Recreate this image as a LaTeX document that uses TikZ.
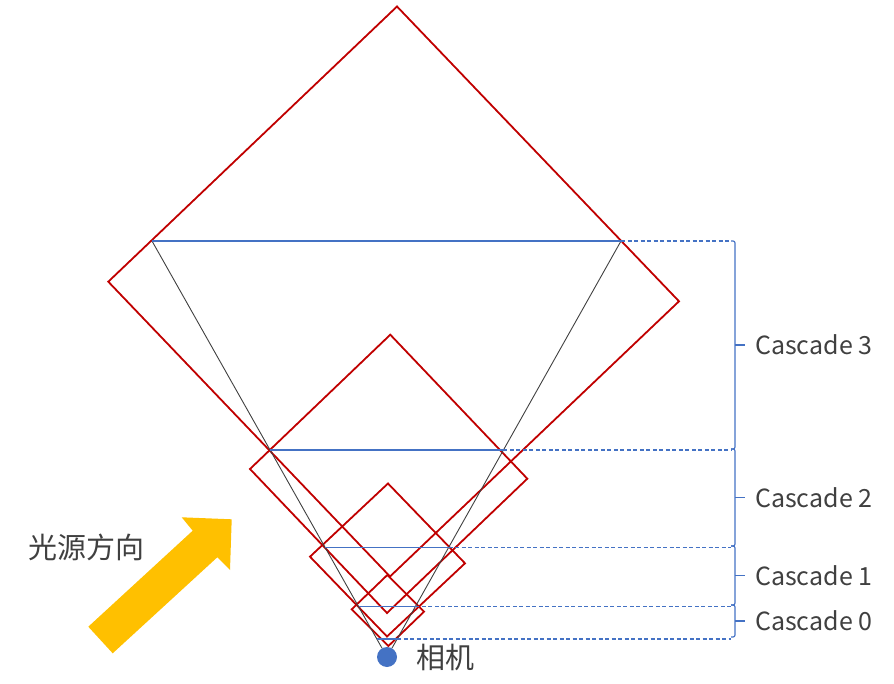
\documentclass[tikz,border=0pt]{standalone}
\usepackage{fontspec}
\setmainfont{Noto Sans CJK SC}
\usetikzlibrary{calc,positioning}
\definecolor{boxred}{HTML}{C00000}
\definecolor{splitblue}{HTML}{4472C4}
\definecolor{lightyellow}{HTML}{FFC000}
\definecolor{textgray}{HTML}{404040}
\tikzset{
 cascadebox/.style={draw=boxred,line width=1.8pt,line join=miter},
 frustum/.style={draw=textgray,line width=0.9pt},
 splitline/.style={draw=splitblue,line width=1.2pt},
 splitdash/.style={splitline,dash pattern=on 4pt off 2.5pt},
 cascadelabel/.style={text=textgray,font=\fontsize{25}{25}\selectfont,anchor=west,inner sep=0pt},
 cjklabel/.style={text=textgray,font=\fontsize{29}{29}\selectfont,inner sep=0pt},
}
\begin{document}
\begin{tikzpicture}[x=1pt,y=-1pt]
 \useasboundingbox (0,0) rectangle (894,684);
 \node[circle,fill=splitblue,minimum size=20pt,inner sep=0pt] (camdot) at (387,657) {};
 \node[cjklabel,anchor=west,right=19pt of camdot] (camlabel) {相机};
 \coordinate (farL) at (152,241);
 \coordinate (farR) at (621,241);
 \coordinate (brace) at (731,0);
 \draw[cascadebox] (397,6.5) -- (108.3,281.7) -- (390,576.5) -- (679,301.3) -- cycle;
 \draw[cascadebox] (390.3,334.7) -- (250,469) -- (387,613) -- (527.3,478.7) -- cycle;
 \draw[cascadebox] (388,483.5) -- (310,556.7) -- (387,636.5) -- (465,563.3) -- cycle;
 \draw[cascadebox] (387.3,575) -- (351.7,609.3) -- (388.4,646) -- (424,611.7) -- cycle;
 \draw[frustum] (farL) -- (camdot);
 \draw[frustum] (farR) -- (camdot);
 \foreach \t/\n in {1/s3,0.4976/s2,0.2633/s1,0.1208/s0,0.0435/near}{
  \coordinate (\n L) at ($(camdot.center)!\t!(farL)$);
  \coordinate (\n R) at ($(camdot.center)!\t!(farR)$);
  \draw[splitline] (\n L) -- (\n R);
  \draw[splitdash] (\n R) -- (\n R -| brace);
 }
 \foreach \a/\b/\n in {241/449/3,449/546/2,546/605/1,605/637/0}{
  \draw[splitline,rounded corners=2pt] (731,\a) -- (735,\a) -- (735,\b) -- (731,\b);
  \node[cascadelabel] (c\n) at (755,{(\a+\b)/2}) {Cascade \n};
  \draw[splitline] (735,{(\a+\b)/2}) -- ([xshift=-10pt]c\n.west);
 }
 \fill[lightyellow] (88.3,626.7) -- (192.7,530.7) -- (181.7,517.3) -- (231.7,519.3)
  -- (230,570) -- (217.3,557.3) -- (112.7,653.3) -- cycle;
 \node[cjklabel] (lightdir) at (86.5,547) {光源方向};
\end{tikzpicture}
\end{document}
